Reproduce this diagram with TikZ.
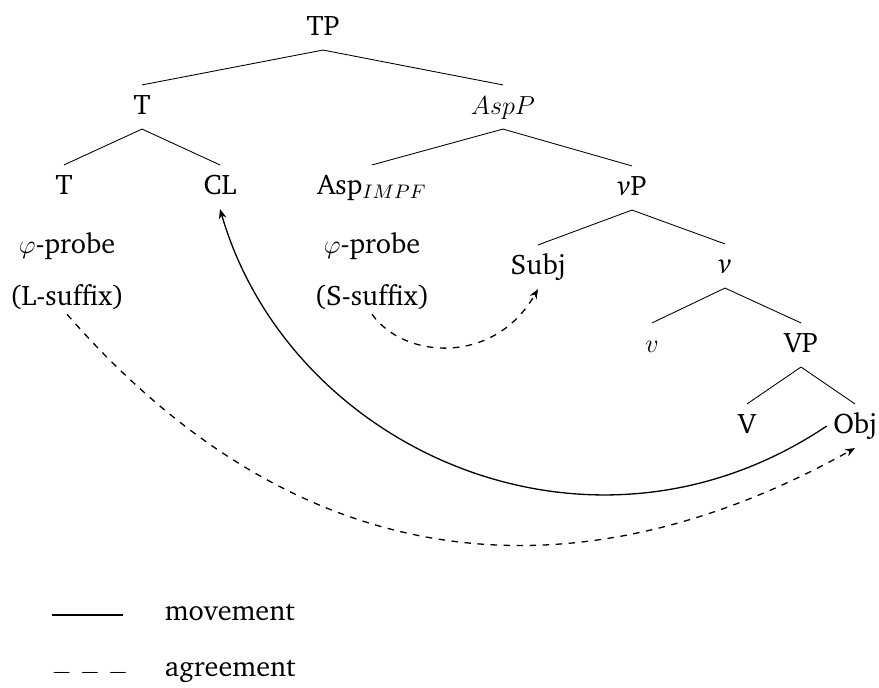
\documentclass[tikz,border=0pt]{standalone}
\usepackage[T1]{fontenc}
\usepackage{charter}
\usepackage{amsmath,amssymb}
\usetikzlibrary{arrows.meta,positioning}

\begin{document}
\begin{tikzpicture}[
  x=0.46pt,y=-0.46pt,
  font=\fontsize{13}{15}\selectfont,
  cat/.style={inner sep=2.8pt,text height=10.5pt,text depth=3.8pt},
  note/.style={inner sep=2pt},
  branch/.style={thin},
  move/.style={line width=0.6pt,-{Stealth[length=4.5pt,width=3.6pt]}},
  agree/.style={move,dashed}]
\useasboundingbox (0,0) rectangle (879,688);
\node[cat] (tp) at (323,28) {TP};
\node[cat] (t) at (142,107) {T};
\node[cat] (aspp) at (503,107) {$AspP$};
\node[cat] (thead) at (64,187) {T};
\node[cat] (cl) at (220,187) {CL};
\node[cat] (asp) at (372,187) {Asp$_{IMPF}$};
\node[cat] (vp) at (632,188) {\textit{v}P};
\node[cat] (subj) at (538,267) {Subj};
\node[cat] (vbar) at (725,266) {\textit{v}};
\node[cat] (vhead) at (652,345) {$v$};
\node[cat] (bigvp) at (801,345) {VP};
\node[cat] (verb) at (747,426) {V};
\node[cat] (obj) at (855,426) {Obj};
\node[note] (tprobe) at (67,246) {$\varphi$-probe};
\node[note] (lsuf) at (67,297) {(L-suffix)};
\node[note] (aprobe) at (372,246) {$\varphi$-probe};
\node[note] (ssuf) at (372,297) {(S-suffix)};
\foreach \a/\b in {tp/t,tp/aspp,t/thead,t/cl,aspp/asp,aspp/vp,vp/subj,vp/vbar,vbar/vhead,vbar/bigvp,bigvp/verb,bigvp/obj}
  \draw[branch] (\a.south)--(\b.north);
\draw[move] (obj.west) .. controls (590,585) and (290,450) .. (cl.south);
\draw[agree] (lsuf.south) .. controls (317,600) and (600,590) .. (obj.south);
\draw[agree] (ssuf.south) .. controls (405,360) and (495,365) .. (subj.south);
\coordinate (ma) at (52,615);
\coordinate (mb) at (123,615);
\draw[line width=0.6pt] (ma)--(mb);
\node[note,anchor=west] (movelbl) at (160,613) {movement};
\node[note] (dashlbl) at (90,673) {$-$ $-$ $-$};
\node[note,anchor=west] (agreelbl) at (160,671) {agreement};
\end{tikzpicture}
\end{document}
